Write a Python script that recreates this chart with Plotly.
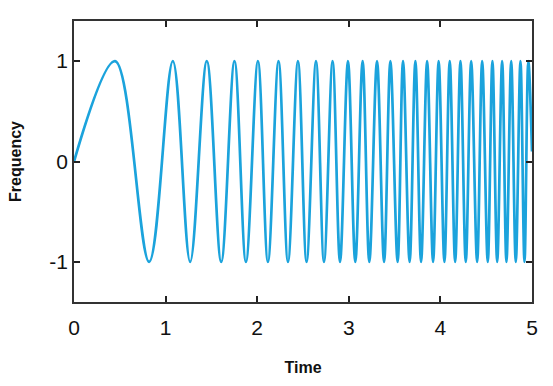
import plotly.graph_objects as go

# Times (s) of the chirp's maxima (+1) and minima (-1)
peak_times = [0.448, 1.079, 1.450, 1.752, 2.008, 2.233, 2.445, 2.642, 2.823, 2.991,
              3.151, 3.308, 3.454, 3.592, 3.727, 3.855, 3.981, 4.102, 4.219, 4.336,
              4.456, 4.568, 4.674, 4.773, 4.874, 4.960]
trough_times = [0.820, 1.268, 1.607, 1.877, 2.117, 2.336, 2.539, 2.729, 2.904, 3.071,
                3.224, 3.385, 3.533, 3.664, 3.789, 3.920, 4.044, 4.161, 4.277, 4.401,
                4.517, 4.620, 4.721, 4.823, 4.918]
start_point = (0.0, 0.0)
end_point = (5.0, 0.1)

x_ticks = [0, 1, 2, 3, 4, 5]
y_ticks = [-1, 0, 1]
y_tick_labels = ["-1", "0", "1"]

pts = [start_point] + [(t, 1.0) for t in peak_times] + [(t, -1.0) for t in trough_times] + [end_point]
pts.sort(key=lambda p: p[0])
xs = [p[0] for p in pts]
ys = [p[1] for p in pts]

fig = go.Figure()
fig.add_trace(go.Scatter(
    x=xs, y=ys, mode="lines",
    line=dict(color="#1ba3dc", width=2.7, shape="spline", smoothing=1.0),
    showlegend=False, hoverinfo="skip",
))

FONT = "Liberation Sans, Arial, sans-serif"
axis_common = dict(
    showgrid=False, zeroline=False, showline=True, linecolor="#333333", linewidth=1.6,
    mirror="ticks", ticks="inside", ticklen=6, tickwidth=1.6, tickcolor="#222222",
    tickfont=dict(family=FONT, size=21, color="#111111"),
)

fig.update_layout(
    width=553, height=386,
    margin=dict(l=74, r=21, t=21, b=81),
    paper_bgcolor="white", plot_bgcolor="white",
    xaxis=dict(range=[0, 5], tickvals=x_ticks, ticklabelstandoff=6,
               title=dict(text="<b>Time</b>", standoff=24,
                          font=dict(family=FONT, size=16, color="#111111")),
               **axis_common),
    yaxis=dict(range=[-1.4, 1.4], tickvals=y_ticks, ticktext=y_tick_labels,
               title=dict(text="<b>Frequency</b>", standoff=24,
                          font=dict(family=FONT, size=16, color="#111111")),
               **axis_common),
)

fig.write_html("out.html")
